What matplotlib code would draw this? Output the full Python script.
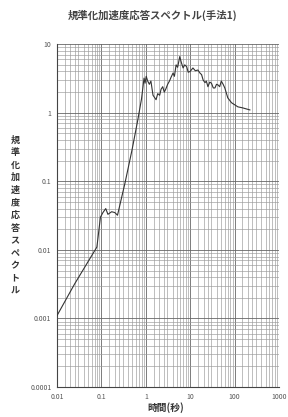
import matplotlib
matplotlib.use('Agg')
from matplotlib import pyplot as plt
from matplotlib.ticker import FixedLocator, FixedFormatter, LogLocator, NullFormatter

plt.rcParams['font.family'] = ['Noto Sans CJK JP', 'DejaVu Sans']

# 周期(秒) と 規準化加速度応答スペクトル
periods = [0.01, 0.025, 0.079, 0.095, 0.108, 0.125, 0.14, 0.17, 0.2, 0.23,
           0.34, 0.49, 0.66, 0.8, 0.91, 0.96, 1.02, 1.1, 1.2, 1.3, 1.45, 1.7,
           1.85, 2.05, 2.2, 2.4, 2.6, 2.8, 3.1, 3.4, 3.7, 4.1, 4.4, 4.8, 5.2,
           5.8, 6.3, 6.9, 7.5, 8.3, 9.0, 9.9, 11.5, 13.0, 14.9, 16.5, 18.0,
           19.5, 21.5, 23.0, 25.0, 27.5, 30.0, 33.0, 36.0, 39.0, 42.0, 46.0,
           50.0, 55.0, 60.0, 70.0, 85.0, 118.0, 150.0, 220.0]
spectrum = [0.0011, 0.0032, 0.011, 0.03, 0.035, 0.04, 0.033, 0.036, 0.035, 0.032,
            0.095, 0.29, 0.79, 1.6, 3.2, 2.7, 3.4, 2.9, 2.6, 2.9, 1.8, 1.55,
            1.9, 1.8, 2.2, 2.4, 2.0, 2.2, 2.6, 2.9, 3.3, 3.8, 3.4, 5.0, 4.6,
            6.6, 5.4, 4.5, 5.0, 4.7, 3.9, 4.0, 4.5, 4.1, 4.2, 3.8, 3.6,
            3.0, 2.75, 2.9, 2.4, 2.8, 2.7, 2.3, 2.3, 2.6, 2.55, 2.4,
            2.9, 2.6, 2.3, 1.65, 1.4, 1.22, 1.18, 1.1]

x_ticks = [0.01, 0.1, 1, 10, 100, 1000]
x_labels = ['0.01', '0.1', '1', '10', '100', '1000']
y_ticks = [0.0001, 0.001, 0.01, 0.1, 1, 10]
y_labels = ['0.0001', '0.001', '0.01', '0.1', '1', '10']

fig = plt.figure(figsize=(2.88, 4.17), dpi=100)
ax = fig.add_axes([0.198, 0.072, 0.771, 0.822])
ax.set_xscale('log')
ax.set_yscale('log')
ax.set_xlim(0.01, 1000)
ax.set_ylim(0.0001, 10)

ax.plot(periods, spectrum, color='#333333', linewidth=0.8, zorder=3)

ax.xaxis.set_major_locator(FixedLocator(x_ticks))
ax.xaxis.set_major_formatter(FixedFormatter(x_labels))
ax.yaxis.set_major_locator(FixedLocator(y_ticks))
ax.yaxis.set_major_formatter(FixedFormatter(y_labels))
ax.xaxis.set_minor_locator(LogLocator(base=10, subs=[1.5, 2, 2.5, 3, 4, 5, 6, 7, 8, 9], numticks=20))
ax.yaxis.set_minor_locator(LogLocator(base=10, subs=[2, 3, 4, 5, 6, 7, 8, 9], numticks=20))
ax.xaxis.set_minor_formatter(NullFormatter())
ax.yaxis.set_minor_formatter(NullFormatter())

ax.grid(which='major', color='#666666', linewidth=0.6)
ax.grid(which='minor', color='#999999', linewidth=0.45)
ax.tick_params(axis='both', which='both', length=0, labelsize=5, colors='#555555', pad=4)

for side in ['top', 'right']:
	ax.spines[side].set_visible(False)
ax.spines['left'].set_color('#444444')
ax.spines['bottom'].set_color('#444444')
ax.spines['left'].set_linewidth(0.8)
ax.spines['bottom'].set_linewidth(0.8)

fig.text(0.53, 0.963, '規準化加速度応答スペクトル(手法1)', ha='center', va='center',
	fontsize=7.5, fontweight='bold', color='#444444')
fig.text(0.052, 0.484, '\n'.join('規準化加速度応答スペクトル'), ha='center', va='center',
	fontsize=6.5, fontweight='bold', color='#333333', linespacing=1.5)
fig.text(0.575, 0.022, '時間(秒)', ha='center', va='center',
	fontsize=7, fontweight='bold', color='#333333')

plt.savefig('out.png', dpi=100)
